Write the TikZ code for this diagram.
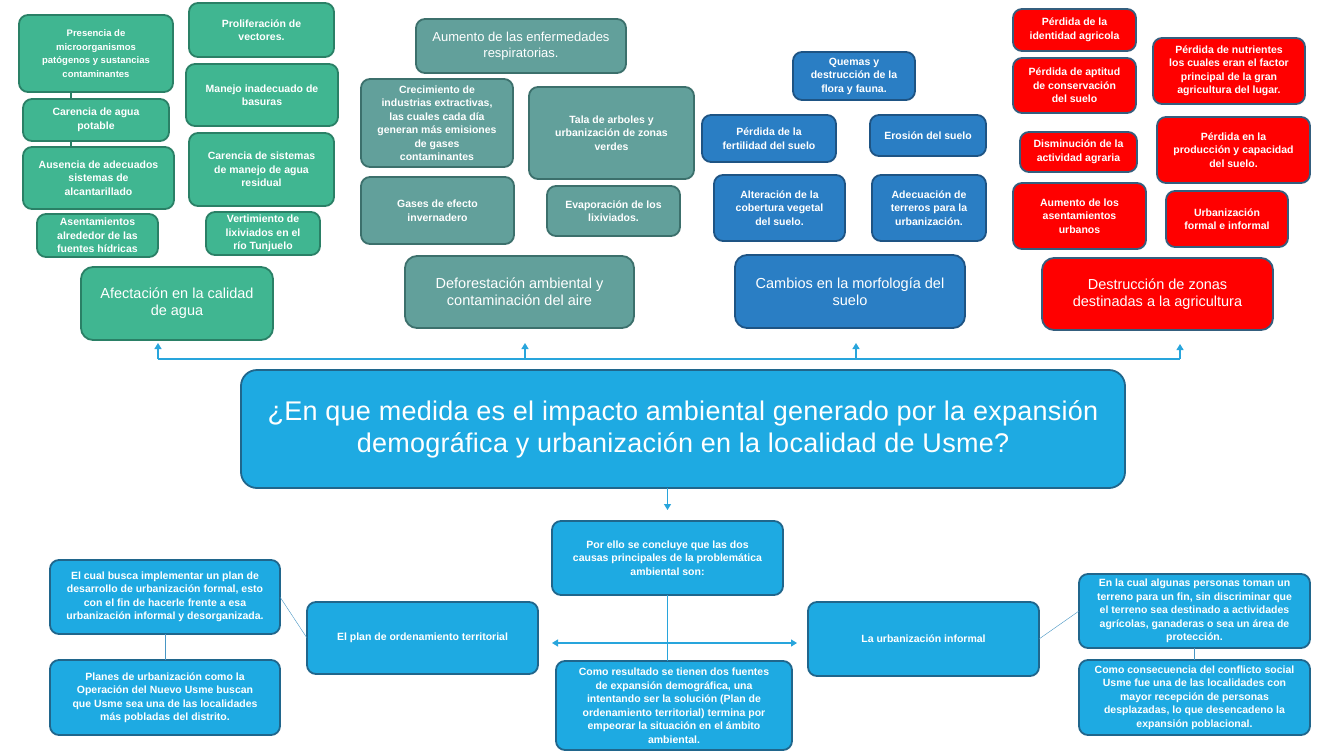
\documentclass[tikz,border=0pt]{standalone}
\usepackage{fontspec}
\setmainfont{Liberation Sans}
\newfontfamily\titulo[LetterSpace=1]{Liberation Sans}
\usetikzlibrary{arrows.meta}

\definecolor{verde}{RGB}{64,182,145}
\definecolor{verdeborde}{RGB}{42,128,102}
\definecolor{petroleo}{RGB}{98,160,155}
\definecolor{petroleoborde}{RGB}{60,112,108}
\definecolor{azul}{RGB}{42,126,196}
\definecolor{azulborde}{RGB}{30,84,132}
\definecolor{rojo}{RGB}{255,0,0}
\definecolor{rojoborde}{RGB}{52,94,126}
\definecolor{celeste}{RGB}{30,170,226}
\definecolor{celesteborde}{RGB}{32,102,140}
\definecolor{flecha}{RGB}{40,165,220}
\definecolor{enlace}{RGB}{72,150,196}

\begin{document}
\begin{tikzpicture}[x=1pt,y=-1pt,
  >={Triangle[width=7pt,length=6pt]},
  caja/.style={draw,line width=1.8pt,rounded corners=9pt,text=white,align=center,
    inner sep=0pt,outer sep=0pt,font=\fontsize{10.5}{13.5}\selectfont\bfseries},
  gcaja/.style={caja,fill=verde,draw=verdeborde},
  pcaja/.style={caja,fill=petroleo,draw=petroleoborde},
  acaja/.style={caja,fill=azul,draw=azulborde},
  rcaja/.style={caja,fill=rojo,draw=rojoborde},
  ccaja/.style={caja,fill=celeste,draw=celesteborde},
  grande/.style={rounded corners=12pt,font=\fontsize{14.5}{17}\selectfont},
  media/.style={font=\fontsize{13}{16}\selectfont},
  flechas/.style={flecha,line width=1.2pt}]
  \useasboundingbox[fill=white] (0,0) rectangle (1342,755);

  % agua
  \node[gcaja,minimum width=154,minimum height=77,font=\fontsize{9.5}{13.5}\selectfont\bfseries] (a1) at (96,53.5)
    {Presencia de\\microorganismos\\patógenos y sustancias\\contaminantes};
  \node[gcaja,minimum width=146,minimum height=42] (a2) at (96,120) {Carencia de agua\\potable};
  \node[gcaja,minimum width=151,minimum height=62] (a3) at (98.5,178) {Ausencia de adecuados\\sistemas de\\alcantarillado};
  \node[gcaja,minimum width=121,minimum height=43] (a4) at (97.5,235.5) {Asentamientos\\alrededor de las\\fuentes hídricas};
  \node[gcaja,minimum width=145,minimum height=54] (a5) at (261.5,30) {Proliferación de\\vectores.};
  \node[gcaja,minimum width=152,minimum height=62] (a6) at (262,95) {Manejo inadecuado de\\basuras};
  \node[gcaja,minimum width=145,minimum height=73] (a7) at (261.5,169.5) {Carencia de sistemas\\de manejo de agua\\residual};
  \node[gcaja,minimum width=114,minimum height=43] (a8) at (263,233.5) {Vertimiento de\\lixiviados en el\\río Tunjuelo};
  \node[gcaja,grande,minimum width=192,minimum height=73] (A) at (177,303.5) {Afectación en la calidad\\de agua};
  \draw[verdeborde,line width=1.5pt] ([xshift=-25pt]a1.south) -- ([xshift=-25pt]a2.north);
  \draw[verdeborde,line width=1.5pt] ([xshift=-25pt]a2.south) -- ([xshift=-25pt]a2.south |- a3.north);

  % aire
  \node[pcaja,media,minimum width=210,minimum height=54] (b1) at (521,46) {Aumento de las enfermedades\\respiratorias.};
  \node[pcaja,minimum width=152,minimum height=88] (b2) at (437,123)
    {Crecimiento de\\industrias extractivas,\\las cuales cada día\\generan más emisiones\\de gases\\contaminantes};
  \node[pcaja,minimum width=165,minimum height=92] (b3) at (611.5,133) {Tala de arboles y\\urbanización de zonas\\verdes};
  \node[pcaja,minimum width=153,minimum height=67] (b4) at (437.5,210.5) {Gases de efecto\\invernadero};
  \node[pcaja,minimum width=133,minimum height=50] (b5) at (613.5,211) {Evaporación de los\\lixiviados.};
  \node[pcaja,grande,minimum width=229,minimum height=72] (B) at (519.5,292) {Deforestación ambiental y\\contaminación del aire};

  % suelo
  \node[acaja,minimum width=122,minimum height=48] (c1) at (854,76) {Quemas y\\destrucción de la\\flora y fauna.};
  \node[acaja,minimum width=134,minimum height=47] (c2) at (769,138.5) {Pérdida de la\\fertilidad del suelo};
  \node[acaja,minimum width=116,minimum height=41] (c3) at (928,135.5) {Erosión del suelo};
  \node[acaja,minimum width=131,minimum height=66] (c4) at (779.5,208) {Alteración de la\\cobertura vegetal\\del suelo.};
  \node[acaja,minimum width=114,minimum height=66] (c5) at (929,208) {Adecuación de\\terreros para la\\urbanización.};
  \node[acaja,grande,minimum width=230,minimum height=73] (C) at (850,291.5) {Cambios en la morfología del\\suelo};

  % agricultura
  \node[rcaja,minimum width=123,minimum height=42] (d1) at (1074.5,30) {Pérdida de la\\identidad agricola};
  \node[rcaja,minimum width=123,minimum height=55] (d2) at (1074.5,85.5) {Pérdida de aptitud\\de conservación\\del suelo};
  \node[rcaja,minimum width=117,minimum height=40] (d3) at (1078.5,152) {Disminución de la\\actividad agraria};
  \node[rcaja,minimum width=133,minimum height=66] (d4) at (1079.5,216) {Aumento de los\\asentamientos\\urbanos};
  \node[rcaja,minimum width=152,minimum height=66] (d5) at (1229,71) {Pérdida de nutrientes\\los cuales eran el factor\\principal de la gran\\agricultura del lugar.};
  \node[rcaja,minimum width=153,minimum height=66] (d6) at (1233.5,150) {Pérdida en la\\producción y capacidad\\del suelo.};
  \node[rcaja,minimum width=122,minimum height=56] (d7) at (1227,219) {Urbanización\\formal e informal};
  \node[rcaja,grande,minimum width=231,minimum height=72] (D) at (1157.5,294) {Destrucción de zonas\\destinadas a la agricultura};

  % flechas hacia arriba
  \coordinate (pA) at (158,359);
  \coordinate (pB) at (525,359);
  \coordinate (pC) at (856,359);
  \coordinate (pD) at (1180,359);
  \draw[flechas] (pA) -- (pD);
  \draw[flechas,->,shorten >=3pt] (pA) -- (pA |- A.south);
  \draw[flechas,->,shorten >=15pt] (pB) -- (pB |- B.south);
  \draw[flechas,->,shorten >=15pt] (pC) -- (pC |- C.south);
  \draw[flechas,->,shorten >=14pt] (pD) -- (pD |- D.south);

  % pregunta
  \node[ccaja,rounded corners=16pt,minimum width=884,minimum height=118,font=\titulo\fontsize{27}{32}\selectfont] (Q) at (683,429)
    {¿En que medida es el impacto ambiental generado por la expansión\\demográfica y urbanización en la localidad de Usme?};

  % conclusion
  \node[ccaja,minimum width=231,minimum height=74] (E) at (667.5,558) {Por ello se concluye que las dos\\causas principales de la problemática\\ambiental son:};
  \node[ccaja,minimum width=236,minimum height=89] (F) at (674,705.5)
    {Como resultado se tienen dos fuentes\\de expansión demográfica, una\\intentando ser la solución (Plan de\\ordenamiento territorial) termina por\\empeorar la situación en el ámbito\\ambiental.};
  \node[ccaja,minimum width=231,minimum height=72] (G) at (422.5,638) {El plan de ordenamiento territorial};
  \node[ccaja,minimum width=230,minimum height=74] (H) at (165,597)
    {El cual busca implementar un plan de\\desarrollo de urbanización formal, esto\\con el fin de hacerle frente a esa\\urbanización informal y desorganizada.};
  \node[ccaja,minimum width=230,minimum height=75] (I) at (165,697.5)
    {Planes de urbanización como la\\Operación del Nuevo Usme buscan\\que Usme sea una de las localidades\\más pobladas del distrito.};
  \node[ccaja,minimum width=231,minimum height=74] (J) at (923.5,639) {La urbanización informal};
  \node[ccaja,minimum width=231,minimum height=74] (K) at (1194.5,611)
    {En la cual algunas personas toman un\\terreno para un fin, sin discriminar que\\el terreno sea destinado a actividades\\agrícolas, ganaderas o sea un área de\\protección.};
  \node[ccaja,minimum width=231,minimum height=75] (L) at (1194.5,697.5)
    {Como consecuencia del conflicto social\\Usme fue una de las localidades con\\mayor recepción de personas\\desplazadas, lo que desencadeno la\\expansión poblacional.};

  \draw[flechas,->,shorten >=11pt] (Q.south -| E.north) -- (E.north);
  \draw[flechas] (E.south) -- (E.south |- F.north);
  \draw[flechas,<->,shorten <=14pt,shorten >=11pt] ([yshift=-5pt]G.east) -- ([yshift=-4pt]J.west);
  \draw[enlace] (H.east) -- (G.west);
  \draw[enlace] (H) -- (I);
  \draw[enlace] (J.east) -- (K.west);
  \draw[enlace] (K) -- (L);
\end{tikzpicture}
\end{document}
